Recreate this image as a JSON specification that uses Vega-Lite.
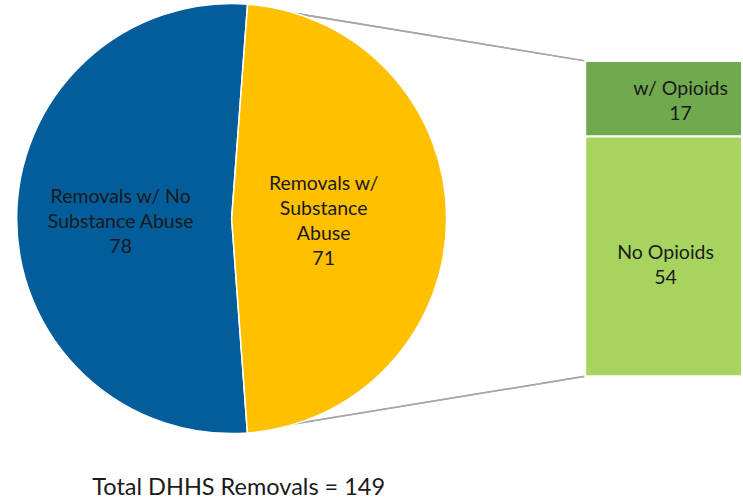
{
  "$schema": "https://vega.github.io/schema/vega-lite/v6.json",
  "width": 743,
  "height": 500,
  "autosize": {"type": "fit", "contains": "padding"},
  "padding": 0,
  "background": "white",
  "config": {"view": {"stroke": null}, "text": {"font": "Lato", "color": "#1a1a1a", "lineBreak": "\n"}},
  "datasets": {
    "removals": [
      {"category": "Removals w/ No\nSubstance Abuse", "value": 78},
      {"category": "Removals w/\nSubstance\nAbuse", "value": 71}
    ],
    "opioids": [
      {"category": "w/ Opioids", "value": 17},
      {"category": "No Opioids", "value": 54}
    ]
  },
  "layer": [
    {
      "data": {"name": "opioids"},
      "mark": {"type": "rule", "color": "#a6a6a6", "strokeWidth": 1.5},
      "encoding": {
        "x": {"datum": 33.37, "type": "quantitative", "scale": {"domain": [0, 100], "nice": false, "zero": false}, "axis": null},
        "y": {"datum": 83.45, "type": "quantitative", "scale": {"domain": [-27.86, 84.48], "nice": false, "zero": false}, "axis": null},
        "x2": {"datum": 78.87},
        "y2": {"datum": 71}
      }
    },
    {
      "data": {"name": "opioids"},
      "mark": {"type": "rule", "color": "#a6a6a6", "strokeWidth": 1.5},
      "encoding": {
        "x": {"datum": 33.37, "type": "quantitative"},
        "y": {"datum": -12.45, "type": "quantitative"},
        "x2": {"datum": 78.87},
        "y2": {"datum": 0}
      }
    },
    {
      "data": {"name": "removals"},
      "mark": {"type": "arc", "outerRadius": 215, "stroke": "white", "strokeWidth": 1.5},
      "encoding": {
        "x": {"datum": 31.22, "type": "quantitative"},
        "y": {"datum": 35.5, "type": "quantitative"},
        "theta": {"field": "value", "type": "quantitative", "stack": true, "scale": {"range": [0.0742, 6.3574]}},
        "order": {"field": "value", "type": "quantitative", "sort": "ascending"},
        "color": {
          "field": "category", "type": "nominal", "legend": null,
          "scale": {
            "domain": ["Removals w/ No\nSubstance Abuse", "Removals w/\nSubstance\nAbuse", "w/ Opioids", "No Opioids"],
            "range": ["#025d9a", "#ffc000", "#71a94f", "#a6d45f"]
          }
        }
      }
    },
    {
      "data": {"name": "removals"},
      "transform": [
        {"calculate": "datum.category + '\\n' + datum.value", "as": "label"}
      ],
      "mark": {
        "type": "text", "fontSize": 19.5, "lineHeight": 25, "align": "center", "baseline": "middle",
        "radius": {"expr": "datum.value == 78 ? 111 : 92"},
        "dy": {"expr": "datum.value == 78 ? -22 : -35"}
      },
      "encoding": {
        "x": {"datum": 31.22, "type": "quantitative"},
        "y": {"datum": 35.5, "type": "quantitative"},
        "theta": {"field": "value", "type": "quantitative", "stack": true},
        "order": {"field": "value", "type": "quantitative", "sort": "ascending"},
        "text": {"field": "label"}
      }
    },
    {
      "data": {"name": "opioids"},
      "transform": [
        {"stack": "value", "groupby": [], "as": ["y0", "y1"], "sort": [{"field": "value", "order": "descending"}]}
      ],
      "mark": {"type": "bar", "stroke": "white", "strokeWidth": 2},
      "encoding": {
        "x": {"datum": 78.87, "type": "quantitative"},
        "x2": {"datum": 100},
        "y": {"field": "y0", "type": "quantitative"},
        "y2": {"field": "y1"},
        "color": {"field": "category", "type": "nominal", "legend": null}
      }
    },
    {
      "data": {"name": "opioids"},
      "transform": [
        {"stack": "value", "groupby": [], "as": ["y0", "y1"], "sort": [{"field": "value", "order": "descending"}]},
        {"calculate": "(datum.y0 + datum.y1) / 2", "as": "mid"},
        {"calculate": "datum.category + '\\n' + datum.value", "as": "label"}
      ],
      "mark": {
        "type": "text", "fontSize": 19.5, "lineHeight": 25, "align": "center", "baseline": "middle",
        "dx": {"expr": "datum.value == 17 ? 15 : 0"},
        "dy": {"expr": "datum.value == 17 ? -10 : -3"}
      },
      "encoding": {
        "x": {"datum": 89.7, "type": "quantitative"},
        "y": {"field": "mid", "type": "quantitative"},
        "text": {"field": "label"}
      }
    },
    {
      "data": {"name": "opioids"},
      "transform": [{"filter": "datum.value == 17"}],
      "mark": {"type": "text", "fontSize": 23.5, "align": "center", "baseline": "middle"},
      "encoding": {
        "x": {"datum": 32.17, "type": "quantitative"},
        "y": {"datum": -25.1, "type": "quantitative"},
        "text": {"value": "Total DHHS Removals = 149"}
      }
    }
  ]
}
